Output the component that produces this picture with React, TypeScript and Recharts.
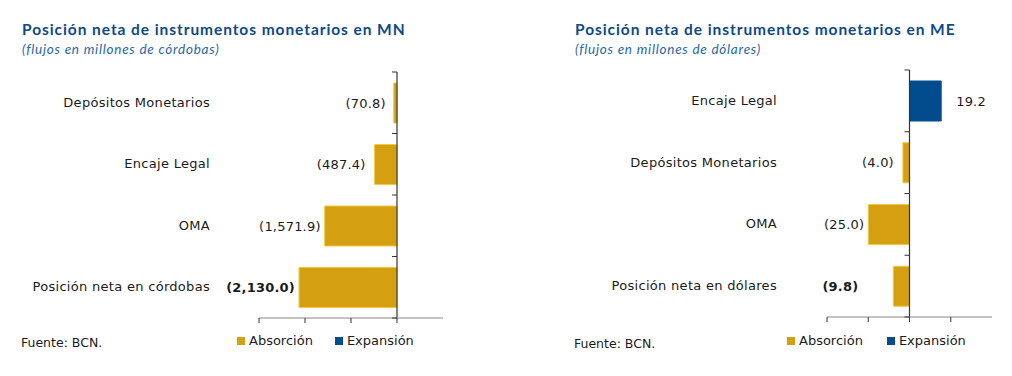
import { BarChart, Bar, XAxis, YAxis, ReferenceLine, Cell, LabelList } from "recharts";

// MN panel (millones de córdobas)
const mnCategories = ["Depósitos Monetarios", "Encaje Legal", "OMA", "Posición neta en córdobas"];
const mnValues = [-70.8, -487.4, -1571.9, -2130.0];
const mnTicks = [-3000, -2000, -1000, 0];
const mnDomain = [-3000, 1000];

// ME panel (millones de dólares)
const meCategories = ["Encaje Legal", "Depósitos Monetarios", "OMA", "Posición neta en dólares"];
const meValues = [19.2, -4.0, -25.0, -9.8];
const meTicks = [-50, -25, 0, 25];
const meDomain = [-50, 50];

const legendNames = ["Absorción", "Expansión"];

const GOLD = "#D4A012";
const BLUE = "#004C8C";
const TITLE = "#0E4A86";
const FONT = "'DejaVu Sans', Verdana, sans-serif";

const fmt = (v: number) => {
  const s = Math.abs(v).toLocaleString("en-US", { minimumFractionDigits: 1, maximumFractionDigits: 1 });
  return v < 0 ? `(${s})` : s;
};

type PanelProps = {
  left: number;
  textX: number;
  footY: number;
  title: string;
  subtitle: string;
  categories: string[];
  values: number[];
  ticks: number[];
  domain: number[];
  yWidth: number;
  top: number;
  right: number;
  height: number;
  labelGap: number[];
  legendX: number;
  legendGap: number;
};

const Panel = (p: PanelProps) => {
  const data = p.categories.map((name, i) => ({ name, value: p.values[i] }));
  const width = 452;
  const plotW = width - p.yWidth - p.right;
  const plotH = p.height - p.top - 12;
  const band = plotH / p.categories.length;
  const zeroX = p.yWidth + ((0 - p.domain[0]) / (p.domain[1] - p.domain[0])) * plotW;

  const CatTick = (props: any) => {
    const { x, y, payload, index } = props;
    return (
      <g>
        <text x={x} y={y} dy={4} textAnchor="end" fontSize={13} fill="#1a1a1a" fontFamily={FONT} letterSpacing={0.3}>
          {payload.value}
        </text>
        <line x1={zeroX - 5} x2={zeroX} y1={y - band / 2} y2={y - band / 2} stroke="#333" />
        {index === p.categories.length - 1 && (
          <line x1={zeroX - 5} x2={zeroX} y1={y + band / 2} y2={y + band / 2} stroke="#333" />
        )}
      </g>
    );
  };

  const ValueLabel = (props: any) => {
    const { x, y, width: w, height: h, value, index } = props;
    const l = Math.min(x, x + w);
    const r = Math.max(x, x + w);
    const neg = value < 0;
    const gap = p.labelGap[index] ?? 6;
    return (
      <text
        x={neg ? l - gap : r + gap}
        y={y + h / 2}
        dy={4.5}
        textAnchor={neg ? "end" : "start"}
        fontSize={13}
        letterSpacing={0.2}
        fontFamily={FONT}
        fontWeight={index === p.categories.length - 1 ? "bold" : "normal"}
        fill="#1a1a1a"
      >
        {fmt(value)}
      </text>
    );
  };

  return (
    <div style={{ position: "absolute", left: p.left, top: 0, width, height: 376 }}>
      <div
        style={{
          position: "absolute",
          left: p.textX,
          top: 20,
          fontFamily: "Lato, sans-serif",
          fontWeight: "bold",
          fontSize: 15.5,
          letterSpacing: 0.93,
          color: TITLE,
          whiteSpace: "nowrap",
        }}
      >
        {p.title}
      </div>
      <div
        style={{
          position: "absolute",
          left: p.textX,
          top: 41,
          fontFamily: "Lato, sans-serif",
          fontStyle: "italic",
          fontSize: 13.5,
          letterSpacing: 0.75,
          color: "#2A66A6",
          whiteSpace: "nowrap",
        }}
      >
        {p.subtitle}
      </div>
      <div style={{ position: "absolute", left: 0, top: 0 }}>
        <BarChart
          width={width}
          height={p.height}
          data={data}
          layout="vertical"
          margin={{ top: p.top, right: p.right, bottom: 0, left: 0 }}
          barSize={40}
        >
          <XAxis
            type="number"
            domain={p.domain}
            ticks={p.ticks}
            allowDataOverflow
            height={12}
            tickSize={5}
            tickFormatter={() => ""}
            stroke="#888"
            tickLine={{ stroke: "#333" }}
          />
          <YAxis
            type="category"
            dataKey="name"
            width={p.yWidth}
            axisLine={false}
            tickLine={false}
            tickSize={0}
            tickMargin={49 + (p.left > 0 ? 1 : 0)}
            tick={<CatTick />}
            interval={0}
          />
          <Bar dataKey="value" isAnimationActive={false} strokeWidth={1}>
            {data.map((d, i) => (
              <Cell key={i} fill={d.value < 0 ? GOLD : BLUE} stroke={d.value < 0 ? "#F3C93F" : BLUE} />
            ))}
            <LabelList dataKey="value" content={<ValueLabel />} />
          </Bar>
          <ReferenceLine x={0} stroke="#333" strokeWidth={1.2} ifOverflow="extendDomain" />
        </BarChart>
      </div>
      <div
        style={{
          position: "absolute",
          left: p.textX - 1,
          top: p.footY,
          fontFamily: FONT,
          fontSize: 12.5,
          color: "#1a1a1a",
        }}
      >
        Fuente: BCN.
      </div>
      <div
        style={{
          position: "absolute",
          left: p.legendX,
          top: 333,
          display: "flex",
          alignItems: "center",
          fontFamily: FONT,
          fontSize: 13,
          color: "#1a1a1a",
          whiteSpace: "nowrap",
        }}
      >
        {legendNames.map((n, i) => (
          <span key={n} style={{ display: "flex", alignItems: "center", marginRight: i === 0 ? p.legendGap : 0 }}>
            <span style={{ display: "inline-block", width: 8, height: 8, background: i === 0 ? GOLD : BLUE, marginRight: 4 }} />
            {n}
          </span>
        ))}
      </div>
    </div>
  );
};

export default function App() {
  return (
    <div style={{ position: "absolute", left: 0, top: 0, width: 1012, height: 376, background: "#fff" }}>
      <Panel
        left={0}
        textX={22}
        footY={335}
        title="Posición neta de instrumentos monetarios en MN"
        subtitle="(flujos en millones de córdobas)"
        categories={mnCategories}
        values={mnValues}
        ticks={mnTicks}
        domain={mnDomain}
        yWidth={259}
        top={72}
        right={452 - 443}
        height={330}
        labelGap={[8, 9, 4, 4]}
        legendX={237}
        legendGap={22}
      />
      <Panel
        left={560}
        textX={15}
        footY={336}
        title="Posición neta de instrumentos monetarios en ME"
        subtitle="(flujos en millones de dólares)"
        categories={meCategories}
        values={meValues}
        ticks={meTicks}
        domain={meDomain}
        yWidth={267}
        top={70}
        right={452 - 432}
        height={329}
        labelGap={[15, 9, 4, 35]}
        legendX={227}
        legendGap={24}
      />
    </div>
  );
}
